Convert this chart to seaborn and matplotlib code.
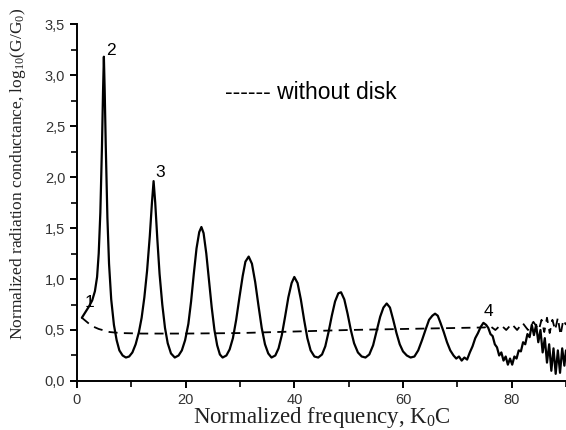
import matplotlib
matplotlib.use("Agg")
import matplotlib.pyplot as plt
import seaborn as sns
import pandas as pd
from matplotlib.ticker import MultipleLocator, FuncFormatter

# ---- data ----
freq_disk = [0.9, 1.5, 2.2, 2.8, 3.3, 3.7, 4.0, 4.3, 4.6, 4.8, 4.95, 5.1, 5.3, 5.6, 5.9,
             6.3, 6.8, 7.3, 7.8, 8.4, 9.0, 9.6, 10.2, 10.8, 11.4, 11.9, 12.4, 12.9, 13.4, 13.8, 14.1,
             14.4, 14.8, 15.2, 15.7, 16.2, 16.7, 17.3, 18.0, 18.7, 19.3, 19.9, 20.5, 21.0, 21.5, 22.0,
             22.5, 22.9, 23.3, 23.8, 24.3, 24.8, 25.3, 25.8, 26.3, 26.8, 27.5, 28.1, 28.7, 29.3, 29.9,
             30.5, 31.0, 31.6, 32.2, 32.8, 33.4, 34.0, 34.6, 35.2, 35.8, 36.5, 37.1, 37.7, 38.3, 38.9,
             39.5, 40.0, 40.6, 41.2, 41.8, 42.4, 43.0, 43.7, 44.4, 45.1, 45.7, 46.3, 46.9, 47.5, 48.1,
             48.6, 49.2, 49.8, 50.4, 51.0, 51.7, 52.4, 53.1, 53.8, 54.5, 55.2, 55.8, 56.4, 57.0, 57.6,
             58.2, 58.8, 59.4, 60.0, 60.7, 61.4, 62.1, 62.8, 63.5, 64.2, 64.8, 65.4, 65.9, 66.4, 66.9,
             67.5, 68.1, 68.7, 69.3, 69.8, 70.3, 70.8, 71.3, 71.8, 72.3, 72.8, 73.3, 73.8, 74.3, 74.8,
             75.3, 75.7, 76.1, 76.5, 76.9, 77.3, 77.7, 78.1, 78.5, 78.9, 79.3, 79.7, 80.1, 80.5, 80.9,
             81.3, 81.7, 82.1, 82.5, 82.9, 83.3, 83.7, 84.1, 84.5, 84.9, 85.3, 85.7, 86.1, 86.5, 86.9,
             87.3, 87.7, 88.1, 88.5, 88.9, 89.3, 89.7, 90.0]
cond_disk = [0.62, 0.67, 0.73, 0.79, 0.88, 1.02, 1.25, 1.65, 2.30, 2.85, 3.18, 2.85,
             2.30, 1.60, 1.15, 0.80, 0.55, 0.40, 0.30, 0.25, 0.23, 0.24, 0.28, 0.36, 0.48, 0.62, 0.82,
             1.08, 1.42, 1.75, 1.96, 1.75, 1.38, 1.05, 0.75, 0.52, 0.37, 0.27, 0.23, 0.25, 0.30, 0.40,
             0.56, 0.78, 1.05, 1.30, 1.46, 1.51, 1.45, 1.25, 0.98, 0.72, 0.50, 0.35, 0.26, 0.23, 0.25,
             0.31, 0.42, 0.60, 0.82, 1.03, 1.17, 1.22, 1.15, 0.97, 0.74, 0.52, 0.36, 0.27, 0.23, 0.25,
             0.32, 0.45, 0.63, 0.82, 0.96, 1.02, 0.96, 0.80, 0.60, 0.42, 0.30, 0.24, 0.23, 0.26, 0.34,
             0.48, 0.64, 0.78, 0.86, 0.87, 0.80, 0.66, 0.50, 0.37, 0.28, 0.24, 0.23, 0.26, 0.35, 0.50,
             0.63, 0.72, 0.76, 0.72, 0.60, 0.47, 0.36, 0.29, 0.25, 0.23, 0.24, 0.30, 0.40, 0.51, 0.60,
             0.64, 0.66, 0.64, 0.57, 0.48, 0.38, 0.30, 0.25, 0.22, 0.24, 0.20, 0.23, 0.21, 0.28, 0.34,
             0.42, 0.47, 0.53, 0.57, 0.55, 0.52, 0.46, 0.44, 0.36, 0.33, 0.25, 0.28, 0.20, 0.24, 0.16,
             0.22, 0.16, 0.24, 0.22, 0.30, 0.29, 0.38, 0.36, 0.46, 0.43, 0.55, 0.45, 0.55, 0.38, 0.50,
             0.28, 0.42, 0.18, 0.36, 0.10, 0.32, 0.07, 0.30, 0.08, 0.32, 0.15, 0.30]

freq_nodisk = [0.9, 2.7, 4.0, 6.0, 8.0, 12.0, 20.0, 30.0, 40.0, 50.0, 60.0, 70.0, 75.0, 76.0, 77.0,
               78.0, 79.0, 80.0, 81.0, 82.0, 83.0, 84.0, 85.0, 85.5, 86.0, 86.5, 87.0, 87.5, 88.0,
               88.5, 89.0, 89.5, 90.0]
cond_nodisk = [0.62, 0.54, 0.51, 0.48, 0.47, 0.465, 0.465, 0.47, 0.485, 0.50, 0.51, 0.52, 0.525, 0.54,
               0.50, 0.55, 0.50, 0.56, 0.50, 0.57, 0.50, 0.58, 0.50, 0.60, 0.48, 0.62, 0.47, 0.60, 0.50,
               0.62, 0.45, 0.60, 0.55]

y_ticks = [0.0, 0.5, 1.0, 1.5, 2.0, 2.5, 3.0, 3.5]
x_ticks = [0, 20, 40, 60, 80]

peak_labels = ["1", "2", "3", "4"]
peak_label_x = [1.4, 5.3, 14.5, 74.9]
peak_label_y = [0.70, 3.17, 1.97, 0.61]

df_disk = pd.DataFrame({"f": freq_disk, "g": cond_disk})
df_nodisk = pd.DataFrame({"f": freq_nodisk, "g": cond_nodisk})

sns.set_style("ticks")
plt.rcParams["font.family"] = ["Liberation Sans", "DejaVu Sans"]
plt.rcParams["mathtext.fontset"] = "custom"
plt.rcParams["mathtext.rm"] = "Liberation Serif"
plt.rcParams["mathtext.it"] = "Liberation Serif:italic"

fig = plt.figure(figsize=(5.66, 4.30), dpi=100)
ax = fig.add_axes([0.136, 0.114, 0.864, 0.830])

sns.lineplot(data=df_disk, x="f", y="g", ax=ax, color="black", linewidth=1.6, sort=False)
sns.lineplot(data=df_nodisk, x="f", y="g", ax=ax, color="black", linewidth=1.3, sort=False)
ax.lines[-1].set_dashes([5, 3.5])

ax.set_xlim(0, 90)
ax.set_ylim(0, 3.5)
ax.set_xticks(x_ticks)
ax.set_yticks(y_ticks)
ax.xaxis.set_minor_locator(MultipleLocator(10))
ax.yaxis.set_minor_locator(MultipleLocator(0.25))
ax.yaxis.set_major_formatter(FuncFormatter(lambda v, p: f"{v:.1f}".replace(".", ",")))
ax.tick_params(axis="both", which="major", direction="out", length=5, width=1.4,
               labelsize=10.5, labelcolor="#333333", color="black")
ax.tick_params(axis="both", which="minor", direction="out", length=4, width=1.2, color="black")

for s in ["top", "right"]:
    ax.spines[s].set_visible(False)
for s in ["left", "bottom"]:
    ax.spines[s].set_linewidth(1.4)
    ax.spines[s].set_color("black")

ax.set_xlabel(r"Normalized frequency, K$_\mathrm{0}$C", family="Liberation Serif", fontsize=16.5,
              labelpad=-1, color="#222222")
ax.set_ylabel(r"Normalized radiation conductance, log$_\mathrm{10}$(G/G$_\mathrm{0}$)",
              family="Liberation Serif", fontsize=12.5, color="#222222")
ax.yaxis.set_label_coords(-0.10, 0.58)

for lab, lx, ly in zip(peak_labels, peak_label_x, peak_label_y):
    ax.text(lx, ly, lab, fontsize=12.5, color="black", ha="left", va="bottom")

ax.text(27.3, 2.83, "------ without disk", fontsize=16.5, color="black", ha="left", va="center")

fig.savefig("out.png", dpi=100)
